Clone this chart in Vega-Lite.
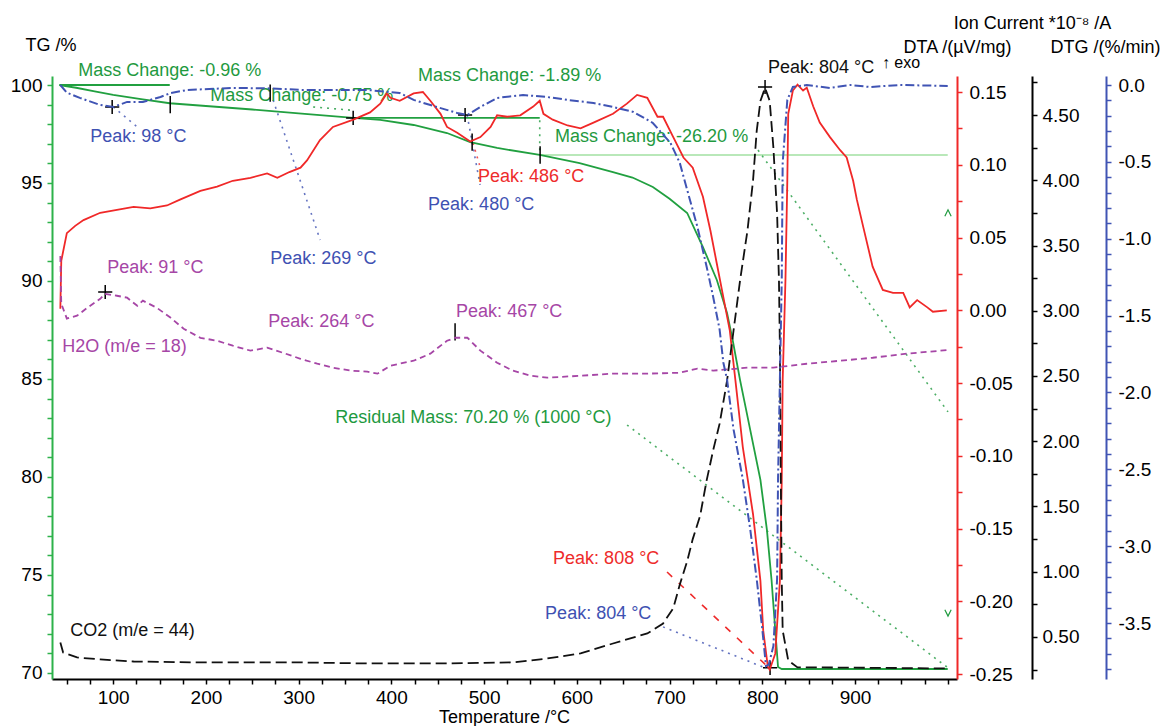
{
  "$schema": "https://vega.github.io/schema/vega-lite/v6.json",
  "width": 905,
  "height": 603,
  "autosize": {"type": "none"},
  "padding": {"left": 52, "top": 76, "right": 207, "bottom": 47},
  "background": "white",
  "config": {
    "font": "Liberation Sans",
    "view": {"stroke": null},
    "axis": {"grid": false, "titleFontWeight": "normal", "labelFont": "Liberation Sans", "titleFont": "Liberation Sans", "titleFontSize": 18, "labelFontSize": 19}
  },
  "datasets": {
    "tg": [{"T":42,"TG":100},{"T":60,"TG":99.86},{"T":80,"TG":99.68},{"T":100,"TG":99.5},{"T":130,"TG":99.28},{"T":161,"TG":99.07},{"T":200,"TG":98.93},{"T":250,"TG":98.75},{"T":300,"TG":98.55},{"T":359,"TG":98.32},{"T":388,"TG":98.22},{"T":424,"TG":97.96},{"T":460,"TG":97.55},{"T":485,"TG":97.09},{"T":514,"TG":96.79},{"T":560,"TG":96.43},{"T":603,"TG":96.02},{"T":639,"TG":95.55},{"T":660,"TG":95.28},{"T":682,"TG":94.8},{"T":700,"TG":94.2},{"T":719,"TG":93.47},{"T":736,"TG":91.73},{"T":751,"TG":90.05},{"T":762,"TG":88.37},{"T":768,"TG":87.0},{"T":776,"TG":84.95},{"T":787,"TG":82.4},{"T":798,"TG":79.85},{"T":805,"TG":77.3},{"T":810,"TG":74.74},{"T":814,"TG":72.19},{"T":817,"TG":70.3},{"T":821,"TG":70.2},{"T":1000,"TG":70.2}],
    "dta": [{"T":43,"DTA":0.001},{"T":44,"DTA":0.034},{"T":50,"DTA":0.053},{"T":59,"DTA":0.058},{"T":68,"DTA":0.062},{"T":86,"DTA":0.067},{"T":104,"DTA":0.069},{"T":122,"DTA":0.071},{"T":140,"DTA":0.07},{"T":158,"DTA":0.072},{"T":172,"DTA":0.076},{"T":194,"DTA":0.082},{"T":212,"DTA":0.085},{"T":229,"DTA":0.089},{"T":248,"DTA":0.091},{"T":266,"DTA":0.094},{"T":277,"DTA":0.091},{"T":290,"DTA":0.095},{"T":302,"DTA":0.098},{"T":309,"DTA":0.103},{"T":323,"DTA":0.117},{"T":337,"DTA":0.126},{"T":359,"DTA":0.131},{"T":377,"DTA":0.136},{"T":388,"DTA":0.142},{"T":395,"DTA":0.149},{"T":399,"DTA":0.146},{"T":409,"DTA":0.144},{"T":424,"DTA":0.149},{"T":434,"DTA":0.15},{"T":442,"DTA":0.144},{"T":453,"DTA":0.135},{"T":460,"DTA":0.126},{"T":471,"DTA":0.122},{"T":485,"DTA":0.116},{"T":496,"DTA":0.119},{"T":507,"DTA":0.126},{"T":514,"DTA":0.134},{"T":525,"DTA":0.133},{"T":539,"DTA":0.134},{"T":553,"DTA":0.14},{"T":560,"DTA":0.144},{"T":564,"DTA":0.135},{"T":574,"DTA":0.131},{"T":590,"DTA":0.127},{"T":604,"DTA":0.125},{"T":618,"DTA":0.129},{"T":639,"DTA":0.135},{"T":654,"DTA":0.142},{"T":665,"DTA":0.148},{"T":676,"DTA":0.146},{"T":687,"DTA":0.133},{"T":693,"DTA":0.133},{"T":704,"DTA":0.119},{"T":715,"DTA":0.105},{"T":725,"DTA":0.098},{"T":736,"DTA":0.078},{"T":744,"DTA":0.055},{"T":751,"DTA":0.032},{"T":758,"DTA":0.009},{"T":765,"DTA":-0.014},{"T":771,"DTA":-0.048},{"T":779,"DTA":-0.094},{"T":790,"DTA":-0.14},{"T":798,"DTA":-0.186},{"T":801,"DTA":-0.22},{"T":806,"DTA":-0.245},{"T":808,"DTA":-0.247},{"T":814,"DTA":-0.236},{"T":819,"DTA":-0.186},{"T":821,"DTA":-0.117},{"T":822,"DTA":-0.048},{"T":825,"DTA":0.021},{"T":827,"DTA":0.089},{"T":828,"DTA":0.135},{"T":833,"DTA":0.151},{"T":838,"DTA":0.155},{"T":844,"DTA":0.151},{"T":848,"DTA":0.153},{"T":855,"DTA":0.14},{"T":862,"DTA":0.129},{"T":873,"DTA":0.119},{"T":884,"DTA":0.11},{"T":891,"DTA":0.105},{"T":898,"DTA":0.089},{"T":902,"DTA":0.076},{"T":909,"DTA":0.057},{"T":919,"DTA":0.03},{"T":930,"DTA":0.014},{"T":941,"DTA":0.012},{"T":952,"DTA":0.012},{"T":959,"DTA":0.002},{"T":967,"DTA":0.007},{"T":978,"DTA":0.002},{"T":984,"DTA":-0.001},{"T":999,"DTA":0}],
    "dtg": [{"T":43,"DTG":0},{"T":50,"DTG":-0.05},{"T":64,"DTG":-0.084},{"T":86,"DTG":-0.13},{"T":100,"DTG":-0.143},{"T":115,"DTG":-0.11},{"T":132,"DTG":-0.11},{"T":151,"DTG":-0.078},{"T":162,"DTG":-0.052},{"T":180,"DTG":-0.032},{"T":229,"DTG":-0.019},{"T":270,"DTG":-0.022},{"T":302,"DTG":-0.032},{"T":374,"DTG":-0.032},{"T":409,"DTG":-0.052},{"T":424,"DTG":-0.097},{"T":449,"DTG":-0.143},{"T":471,"DTG":-0.182},{"T":482,"DTG":-0.195},{"T":496,"DTG":-0.143},{"T":514,"DTG":-0.084},{"T":542,"DTG":-0.065},{"T":568,"DTG":-0.078},{"T":590,"DTG":-0.097},{"T":618,"DTG":-0.117},{"T":639,"DTG":-0.143},{"T":661,"DTG":-0.175},{"T":682,"DTG":-0.247},{"T":701,"DTG":-0.377},{"T":711,"DTG":-0.506},{"T":719,"DTG":-0.682},{"T":730,"DTG":-0.922},{"T":740,"DTG":-1.182},{"T":747,"DTG":-1.377},{"T":754,"DTG":-1.591},{"T":758,"DTG":-1.805},{"T":762,"DTG":-1.916},{"T":769,"DTG":-2.24},{"T":779,"DTG":-2.565},{"T":787,"DTG":-2.89},{"T":794,"DTG":-3.214},{"T":800,"DTG":-3.539},{"T":804,"DTG":-3.78},{"T":807,"DTG":-3.77},{"T":812,"DTG":-3.649},{"T":816,"DTG":-3.214},{"T":817,"DTG":-2.565},{"T":819,"DTG":-1.916},{"T":821,"DTG":-1.266},{"T":822,"DTG":-0.506},{"T":827,"DTG":-0.097},{"T":833,"DTG":-0.013},{"T":848,"DTG":0},{"T":873,"DTG":-0.019},{"T":895,"DTG":0},{"T":916,"DTG":-0.013},{"T":948,"DTG":0},{"T":1000,"DTG":-0.006}],
    "co2": [{"T":43,"IC":0.458},{"T":46,"IC":0.381},{"T":61,"IC":0.343},{"T":86,"IC":0.328},{"T":122,"IC":0.312},{"T":194,"IC":0.305},{"T":302,"IC":0.305},{"T":374,"IC":0.297},{"T":460,"IC":0.297},{"T":531,"IC":0.305},{"T":568,"IC":0.335},{"T":604,"IC":0.374},{"T":639,"IC":0.45},{"T":676,"IC":0.527},{"T":693,"IC":0.603},{"T":704,"IC":0.72},{"T":711,"IC":0.9},{"T":719,"IC":1.08},{"T":725,"IC":1.25},{"T":733,"IC":1.43},{"T":740,"IC":1.7},{"T":747,"IC":1.93},{"T":754,"IC":2.135},{"T":762,"IC":2.464},{"T":769,"IC":2.847},{"T":776,"IC":3.23},{"T":784,"IC":3.613},{"T":790,"IC":3.995},{"T":794,"IC":4.378},{"T":798,"IC":4.608},{"T":803,"IC":4.708},{"T":808,"IC":4.608},{"T":812,"IC":4.248},{"T":816,"IC":3.743},{"T":818,"IC":3.23},{"T":819,"IC":2.717},{"T":820,"IC":1.698},{"T":821,"IC":0.933},{"T":822,"IC":0.55},{"T":828,"IC":0.32},{"T":838,"IC":0.267},{"T":862,"IC":0.267},{"T":1000,"IC":0.259}],
    "h2o": [{"T":43,"IC":3.42},{"T":44,"IC":3.054},{"T":50,"IC":2.94},{"T":61,"IC":2.962},{"T":72,"IC":3.023},{"T":86,"IC":3.092},{"T":91,"IC":3.13},{"T":104,"IC":3.115},{"T":115,"IC":3.1},{"T":126,"IC":3.038},{"T":132,"IC":3.077},{"T":147,"IC":3.023},{"T":162,"IC":2.946},{"T":176,"IC":2.862},{"T":194,"IC":2.793},{"T":212,"IC":2.77},{"T":229,"IC":2.732},{"T":248,"IC":2.694},{"T":266,"IC":2.717},{"T":283,"IC":2.678},{"T":302,"IC":2.632},{"T":320,"IC":2.594},{"T":337,"IC":2.564},{"T":356,"IC":2.541},{"T":374,"IC":2.533},{"T":385,"IC":2.518},{"T":399,"IC":2.579},{"T":424,"IC":2.617},{"T":442,"IC":2.671},{"T":460,"IC":2.77},{"T":469,"IC":2.793},{"T":482,"IC":2.793},{"T":496,"IC":2.694},{"T":514,"IC":2.602},{"T":531,"IC":2.541},{"T":550,"IC":2.502},{"T":568,"IC":2.487},{"T":604,"IC":2.502},{"T":639,"IC":2.518},{"T":676,"IC":2.518},{"T":711,"IC":2.525},{"T":730,"IC":2.556},{"T":747,"IC":2.541},{"T":784,"IC":2.564},{"T":812,"IC":2.564},{"T":848,"IC":2.594},{"T":884,"IC":2.617},{"T":919,"IC":2.64},{"T":956,"IC":2.671},{"T":992,"IC":2.694},{"T":1000,"IC":2.7}],
    "solid": [{"T":42,"T2":161,"TG":100,"TG2":100},{"T":359,"T2":560,"TG":98.32,"TG2":98.32}],
    "thin": [{"T":560,"T2":1000,"TG":96.43,"TG2":96.43}],
    "dotted": [
      {"series":"TG","T":315.6,"T2":355.5,"TG":98.88,"TG2":98.72},
      {"series":"TG","T":560,"T2":560,"TG":98.2,"TG2":96.55},
      {"series":"TG","T":795.4,"T2":1000.3,"TG":96.68,"TG2":83.32},
      {"series":"TG","T":654.2,"T2":1000.3,"TG":82.65,"TG2":70.26},
      {"series":"DTG","T":100,"T2":125.9,"TG":98.88,"TG2":97.86},
      {"series":"DTG","T":272.5,"T2":323.2,"TG":99.23,"TG2":92.09},
      {"series":"DTG","T":481.7,"T2":495.7,"TG":98.47,"TG2":94.9},
      {"series":"DTG","T":693,"T2":800.8,"TG":72.35,"TG2":70.3},
      {"series":"DTA","T":488.1,"T2":495.7,"TG":97.04,"TG2":95.82}
    ],
    "dashed": [{"series":"DTA","T":697.3,"T2":804,"TG":75.15,"TG2":70.4}],
    "labels": [
      {"text":"Mass Change: -0.96 %","series":"TG","T":62.3,"TG":100.7},
      {"text":"Mass Change: -0.75 %","series":"TG","T":204.6,"TG":99.44},
      {"text":"Mass Change: -1.89 %","series":"TG","T":428.8,"TG":100.46},
      {"text":"Mass Change: -26.20 %","series":"TG","T":576.5,"TG":97.34},
      {"text":"Residual Mass: 70.20 % (1000 °C)","series":"TG","T":339.4,"TG":83.01},
      {"text":"Peak: 98 °C","series":"DTG","T":75.2,"TG":97.34},
      {"text":"Peak: 269 °C","series":"DTG","T":269.3,"TG":91.12},
      {"text":"Peak: 480 °C","series":"DTG","T":439.6,"TG":93.88},
      {"text":"Peak: 486 °C","series":"DTA","T":493.5,"TG":95.31},
      {"text":"Peak: 804 °C","series":"CO2","T":806.2,"TG":100.87},
      {"text":"Peak: 91 °C","series":"H2O","T":93.5,"TG":90.66},
      {"text":"H2O (m/e = 18)","series":"H2O","T":45,"TG":86.63},
      {"text":"Peak: 264 °C","series":"H2O","T":267.1,"TG":87.9},
      {"text":"Peak: 467 °C","series":"H2O","T":469.8,"TG":88.42},
      {"text":"CO2 (m/e = 44)","series":"CO2","T":53.6,"TG":72.14},
      {"text":"Peak: 808 °C","series":"DTA","T":574.4,"TG":75.82},
      {"text":"Peak: 804 °C","series":"DTG","T":565.8,"TG":73.01}
    ],
    "small": [{"text":"↑ exo","series":"CO2","T":929,"TG":101.1}],
    "plus": [{"T":98.9,"TG":98.88},{"T":358.8,"TG":98.32},{"T":479.5,"TG":98.47},{"T":91.4,"TG":89.44},{"T":803,"TG":99.9},{"T":808.4,"TG":70.26}],
    "bars": [{"T":161.5,"TG":99.0},{"T":269.3,"TG":99.59},{"T":487.1,"TG":97.09},{"T":560.4,"TG":96.43},{"T":468.7,"TG":87.4}],
    "up": [{"T":1000.3,"TG":93.47}],
    "down": [{"T":1000.3,"TG":73.06}]
  },
  "resolve": {"scale": {"y": "independent"}, "axis": {"y": "independent"}},
  "layer": [
    {
      "encoding": {
        "x": {"field": "T", "type": "quantitative", "scale": {"domain": [34, 1010], "nice": false, "zero": false},
          "axis": {"title": "Temperature /°C", "titleFontSize": 18, "titleColor": "black", "titleX": 452, "titleY": 38, "titleAlign": "center", "titleBaseline": "middle",
            "values": [50,75,100,125,150,175,200,225,250,275,300,325,350,375,400,425,450,475,500,525,550,575,600,625,650,675,700,725,750,775,800,825,850,875,900,925,950,975,1000],
            "labelExpr": "datum.value % 100 == 0 && datum.value < 1000 ? datum.label : ''",
            "labelFontSize": 19, "labelColor": "black", "labelPadding": 4, "labelOverlap": false, "tickSize": 5, "tickColor": "black", "tickWidth": 1.5, "domainColor": "black", "domainWidth": 2}},
        "y": {"field": "TG", "type": "quantitative", "scale": {"domain": [69.69, 100.46], "nice": false, "zero": false},
          "axis": {"orient": "left", "title": "TG /%", "titleAngle": 0, "titleAlign": "left", "titleBaseline": "middle", "titleX": -27, "titleY": -31, "titleFontSize": 18, "titleColor": "black",
            "values": [70,71,72,73,74,75,76,77,78,79,80,81,82,83,84,85,86,87,88,89,90,91,92,93,94,95,96,97,98,99,100],
            "labelExpr": "datum.value % 5 == 0 ? datum.label : ''",
            "labelFontSize": 19, "labelColor": "black", "labelPadding": 5, "labelOverlap": false, "tickSize": 5, "tickColor": "#2db24a", "tickWidth": 1.5, "domainColor": "#2db24a", "domainWidth": 2}}
      },
      "layer": [
        {"data": {"name": "thin"}, "mark": {"type": "rule", "color": "#74d174", "strokeWidth": 1.2}, "encoding": {"x2": {"field": "T2"}, "y2": {"field": "TG2"}}},
        {"data": {"name": "solid"}, "mark": {"type": "rule", "color": "#21a040", "strokeWidth": 1.8}, "encoding": {"x2": {"field": "T2"}, "y2": {"field": "TG2"}}},
        {"data": {"name": "dotted"}, "mark": {"type": "rule", "strokeWidth": 1.6, "strokeDash": [2, 5], "opacity": 0.8}, "encoding": {"x2": {"field": "T2"}, "y2": {"field": "TG2"},
          "color": {"field": "series", "type": "nominal", "scale": {"domain": ["TG","DTA","DTG","CO2","H2O"], "range": ["#1f9a3f","#ee2b2b","#3e51b2","#111111","#a646a6"]}, "legend": null}}},
        {"data": {"name": "dashed"}, "mark": {"type": "rule", "strokeWidth": 1.6, "strokeDash": [7, 9]}, "encoding": {"x2": {"field": "T2"}, "y2": {"field": "TG2"},
          "color": {"field": "series", "type": "nominal", "scale": {"domain": ["TG","DTA","DTG","CO2","H2O"], "range": ["#1f9a3f","#ee2b2b","#3e51b2","#111111","#a646a6"]}, "legend": null}}},
        {"data": {"name": "labels"}, "mark": {"type": "text", "align": "left", "baseline": "middle", "fontSize": 18}, "encoding": {"text": {"field": "text"},
          "color": {"field": "series", "type": "nominal", "scale": {"domain": ["TG","DTA","DTG","CO2","H2O"], "range": ["#1f9a3f","#ee2b2b","#3e51b2","#111111","#a646a6"]}, "legend": null}}},
        {"data": {"name": "small"}, "mark": {"type": "text", "align": "left", "baseline": "middle", "fontSize": 16, "color": "black"}, "encoding": {"text": {"field": "text"}}},
        {"data": {"name": "tg"}, "mark": {"type": "line", "color": "#21a040", "strokeWidth": 1.8}},
        {"data": {"name": "plus"}, "mark": {"type": "point", "shape": "M-1,0L1,0M0,-1L0,1", "size": 200, "filled": false, "color": "black", "strokeWidth": 1.5, "opacity": 1}},
        {"data": {"name": "bars"}, "mark": {"type": "point", "shape": "M0,-1L0,1", "size": 300, "filled": false, "color": "black", "strokeWidth": 1.5, "opacity": 1}},
        {"data": {"name": "up"}, "mark": {"type": "point", "shape": "M-1,1L0,-1L1,1", "size": 40, "filled": false, "color": "#1f9a3f", "strokeWidth": 1.2, "opacity": 1}},
        {"data": {"name": "down"}, "mark": {"type": "point", "shape": "M-1,-1L0,1L1,-1", "size": 40, "filled": false, "color": "#1f9a3f", "strokeWidth": 1.2, "opacity": 1}}
      ]
    },
    {
      "data": {"name": "dta"},
      "mark": {"type": "line", "color": "#f02828", "strokeWidth": 1.8},
      "encoding": {
        "x": {"field": "T", "type": "quantitative", "scale": {"domain": [34, 1010], "nice": false, "zero": false},
          "axis": {"title": "Temperature /°C", "titleFontSize": 18, "titleColor": "black", "titleX": 452, "titleY": 38, "titleAlign": "center", "titleBaseline": "middle",
            "values": [50,75,100,125,150,175,200,225,250,275,300,325,350,375,400,425,450,475,500,525,550,575,600,625,650,675,700,725,750,775,800,825,850,875,900,925,950,975,1000],
            "labelExpr": "datum.value % 100 == 0 && datum.value < 1000 ? datum.label : ''",
            "labelFontSize": 19, "labelColor": "black", "labelPadding": 4, "labelOverlap": false, "tickSize": 5, "tickColor": "black", "tickWidth": 1.5, "domainColor": "black", "domainWidth": 2}},
        "y": {"field": "DTA", "type": "quantitative", "scale": {"domain": [-0.2534, 0.161], "nice": false, "zero": false},
          "axis": {"orient": "right", "offset": 0, "title": "DTA /(µV/mg)", "titleAngle": 0, "titleX": 0, "titleY": -29, "titleAlign": "center", "titleBaseline": "middle", "titleFontSize": 18, "titleColor": "black",
            "values": [-0.25,-0.225,-0.2,-0.175,-0.15,-0.125,-0.1,-0.075,-0.05,-0.025,0,0.025,0.05,0.075,0.1,0.125,0.15],
            "labelExpr": "abs(datum.value*20 - round(datum.value*20)) < 0.01 ? replace(format(datum.value, '.2f'), '−', '-') : ''",
            "labelFontSize": 19, "labelColor": "black", "labelPadding": 7, "labelOverlap": false, "tickSize": 5, "tickColor": "#f02828", "tickWidth": 1.5, "domainColor": "#f02828", "domainWidth": 2}}
      }
    },
    {
      "encoding": {
        "x": {"field": "T", "type": "quantitative", "scale": {"domain": [34, 1010], "nice": false, "zero": false},
          "axis": {"title": "Temperature /°C", "titleFontSize": 18, "titleColor": "black", "titleX": 452, "titleY": 38, "titleAlign": "center", "titleBaseline": "middle",
            "values": [50,75,100,125,150,175,200,225,250,275,300,325,350,375,400,425,450,475,500,525,550,575,600,625,650,675,700,725,750,775,800,825,850,875,900,925,950,975,1000],
            "labelExpr": "datum.value % 100 == 0 && datum.value < 1000 ? datum.label : ''",
            "labelFontSize": 19, "labelColor": "black", "labelPadding": 4, "labelOverlap": false, "tickSize": 5, "tickColor": "black", "tickWidth": 1.5, "domainColor": "black", "domainWidth": 2}},
        "y": {"field": "IC", "type": "quantitative", "scale": {"domain": [0.178, 4.799], "nice": false, "zero": false},
          "axis": {"orient": "right", "offset": 75, "title": "Ion Current *10⁻⁸ /A", "titleAngle": 0, "titleX": 0, "titleY": -53, "titleAlign": "center", "titleBaseline": "middle", "titleFontSize": 18, "titleColor": "black",
            "values": [0.25,0.5,0.75,1,1.25,1.5,1.75,2,2.25,2.5,2.75,3,3.25,3.5,3.75,4,4.25,4.5,4.75],
            "labelExpr": "abs(datum.value*2 - round(datum.value*2)) < 0.01 ? format(datum.value, '.2f') : ''",
            "labelFontSize": 19, "labelColor": "black", "labelPadding": 5, "labelOverlap": false, "tickSize": 5, "tickColor": "black", "tickWidth": 1.5, "domainColor": "black", "domainWidth": 2}}
      },
      "layer": [
        {"data": {"name": "h2o"}, "mark": {"type": "line", "color": "#a646a6", "strokeWidth": 1.8, "strokeDash": [6, 4]}},
        {"data": {"name": "co2"}, "mark": {"type": "line", "color": "#111111", "strokeWidth": 1.8, "strokeDash": [11, 5]}}
      ]
    },
    {
      "data": {"name": "dtg"},
      "mark": {"type": "line", "color": "#4054b4", "strokeWidth": 2, "strokeDash": [9, 3, 2, 3]},
      "encoding": {
        "x": {"field": "T", "type": "quantitative", "scale": {"domain": [34, 1010], "nice": false, "zero": false},
          "axis": {"title": "Temperature /°C", "titleFontSize": 18, "titleColor": "black", "titleX": 452, "titleY": 38, "titleAlign": "center", "titleBaseline": "middle",
            "values": [50,75,100,125,150,175,200,225,250,275,300,325,350,375,400,425,450,475,500,525,550,575,600,625,650,675,700,725,750,775,800,825,850,875,900,925,950,975,1000],
            "labelExpr": "datum.value % 100 == 0 && datum.value < 1000 ? datum.label : ''",
            "labelFontSize": 19, "labelColor": "black", "labelPadding": 4, "labelOverlap": false, "tickSize": 5, "tickColor": "black", "tickWidth": 1.5, "domainColor": "black", "domainWidth": 2}},
        "y": {"field": "DTG", "type": "quantitative", "scale": {"domain": [-3.864, 0.0586], "nice": false, "zero": false},
          "axis": {"orient": "right", "offset": 149, "title": "DTG /(%/min)", "titleAngle": 0, "titleX": -1, "titleY": -29, "titleAlign": "center", "titleBaseline": "middle", "titleFontSize": 18, "titleColor": "black",
            "values": [0,-0.1,-0.2,-0.3,-0.4,-0.5,-0.6,-0.7,-0.8,-0.9,-1,-1.1,-1.2,-1.3,-1.4,-1.5,-1.6,-1.7,-1.8,-1.9,-2,-2.1,-2.2,-2.3,-2.4,-2.5,-2.6,-2.7,-2.8,-2.9,-3,-3.1,-3.2,-3.3,-3.4,-3.5,-3.6,-3.7,-3.8],
            "labelExpr": "abs(datum.value*2 - round(datum.value*2)) < 0.01 ? replace(format(datum.value, '.1f'), '−', '-') : ''",
            "labelFontSize": 19, "labelColor": "black", "labelPadding": 7, "labelOverlap": false, "tickSize": 5, "tickColor": "#4054b4", "tickWidth": 1.5, "domainColor": "#4054b4", "domainWidth": 2}}
      }
    }
  ]
}
